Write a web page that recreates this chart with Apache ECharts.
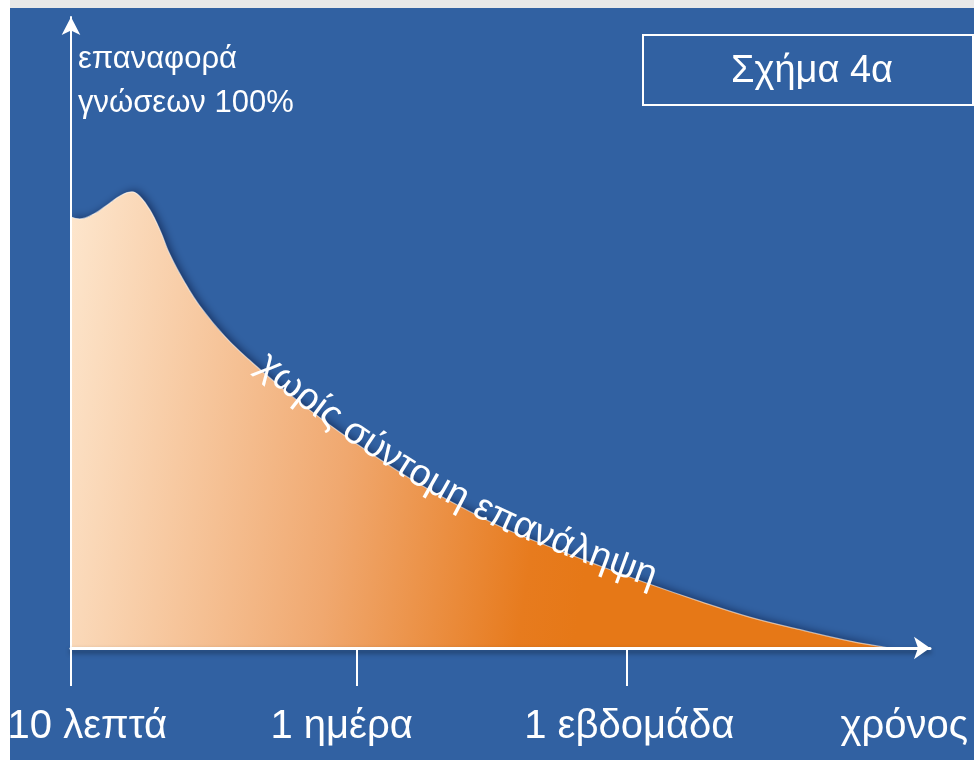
<!DOCTYPE html>
<html>
<head>
<meta charset="utf-8">
<script src="https://cdn.jsdelivr.net/npm/echarts@6/dist/echarts.min.js"></script>
<style>
  html, body { margin: 0; padding: 0; background: #ffffff; }
  #chart { width: 974px; height: 760px; }
</style>
</head>
<body>
<div id="chart"></div>
<script>
// Forgetting curve without short review: time (relative units, 0–100) and recall (%)
const timeValues = [0, 1.0, 2.8, 4.5, 5.9, 7.1, 8.0, 9.2, 10.4, 11.5, 13.3, 15.0, 17.9, 20.8, 24.3,
  27.8, 31.3, 35.4, 39.8, 44.1, 49.9, 55.8, 61.6, 67.4, 73.2, 79.0, 84.9, 90.7, 95.3];
const recallValues = [68.3, 68.0, 68.9, 70.5, 71.8, 72.3, 71.6, 69.4, 66.1, 62.4, 57.8, 54.2, 49.4, 45.6, 41.5,
  37.7, 34.2, 30.4, 26.6, 23.3, 19.3, 16.0, 13.0, 10.1, 7.4, 4.9, 2.9, 1.1, 0];

// Time axis: tick marks and the labels written under them
const tickValues = [0, 33.3, 64.7];
const timeLabels = ['10 λεπτά', '1 ημέρα', '1 εβδομάδα', 'χρόνος'];
const timeLabelValues = [1.9, 31.5, 65.0, 97.0];

const yAxisTitle = 'επαναφορά\nγνώσεων 100%';
const figureTitle = 'Σχήμα 4α';
const curveCaption = 'χωρίς σύντομη επανάληψη';
const captionStartTime = 21.6;

const FONT = '"Liberation Sans", Arial, sans-serif';
const BLUE = '#3161a2';

const chart = echarts.init(document.getElementById('chart'), null, { renderer: 'canvas' });

const option = {
  backgroundColor: BLUE,
  animation: false,
  grid: { left: 71, right: 44, top: 17, bottom: 112, outerBoundsMode: 'none' },
  xAxis: {
    type: 'value', min: 0, max: 100, z: 4,
    splitLine: { show: false },
    axisLine: {
      show: true, onZero: false, symbol: ['none', 'arrow'], symbolSize: [17, 16],
      lineStyle: { color: '#ffffff', width: 3, shadowColor: 'rgba(0,0,0,0.45)', shadowBlur: 5, shadowOffsetY: 3 }
    },
    axisTick: { show: true, customValues: tickValues, length: 38, lineStyle: { color: '#ffffff', width: 2 } },
    axisLabel: {
      show: true, customValues: timeLabelValues,
      formatter: function (v) {
        let best = 0;
        timeLabelValues.forEach(function (t, i) { if (Math.abs(t - v) < Math.abs(timeLabelValues[best] - v)) best = i; });
        return timeLabels[best];
      },
      color: '#ffffff', fontSize: 40, fontFamily: FONT, margin: 59
    }
  },
  yAxis: {
    type: 'value', min: 0, max: 100, z: 4,
    splitLine: { show: false }, axisTick: { show: false }, axisLabel: { show: false },
    axisLine: {
      show: true, onZero: false, symbol: ['none', 'arrow'], symbolSize: [14, 18],
      lineStyle: { color: '#ffffff', width: 2 }
    },
    name: yAxisTitle, nameLocation: 'end', nameGap: -20,
    nameTextStyle: {
      color: '#ffffff', fontSize: 31, lineHeight: 44, fontFamily: FONT,
      align: 'left', verticalAlign: 'top', padding: [0, 0, 0, 7]
    }
  },
  series: [{
    type: 'line',
    data: timeValues.map(function (t, i) { return [t, recallValues[i]]; }),
    smooth: 0.4,
    symbol: 'none',
    z: 2,
    lineStyle: { color: 'rgba(255,255,255,0.55)', width: 1.2 },
    areaStyle: {
      opacity: 1,
      color: new echarts.graphic.LinearGradient(0, 0.02, 0.68, 0.2, [
        { offset: 0, color: '#fde6cd' },
        { offset: 0.55, color: '#f0a86f' },
        { offset: 0.9, color: '#e77b1e' },
        { offset: 1, color: '#e67817' }
      ]),
      shadowColor: 'rgba(8,22,60,0.6)', shadowBlur: 9, shadowOffsetX: 3, shadowOffsetY: -1
    }
  }]
};

chart.setOption(option);

// Caption set letter by letter along the curve
function captionElements() {
  const pts = timeValues.map(function (t, i) {
    return chart.convertToPixel({ seriesIndex: 0 }, [t, recallValues[i]]);
  });
  const cum = [0];
  for (let i = 1; i < pts.length; i++) {
    cum.push(cum[i - 1] + Math.hypot(pts[i][0] - pts[i - 1][0], pts[i][1] - pts[i - 1][1]));
  }
  function pointAt(s) {
    let i = 1;
    while (i < pts.length - 1 && cum[i] < s) i++;
    const seg = cum[i] - cum[i - 1] || 1;
    const f = (s - cum[i - 1]) / seg;
    return [pts[i - 1][0] + f * (pts[i][0] - pts[i - 1][0]), pts[i - 1][1] + f * (pts[i][1] - pts[i - 1][1])];
  }
  const startPx = chart.convertToPixel({ seriesIndex: 0 }, [captionStartTime, 0])[0];
  let s0 = 0;
  for (let i = 1; i < pts.length; i++) {
    if (pts[i][0] >= startPx) {
      const f = (startPx - pts[i - 1][0]) / (pts[i][0] - pts[i - 1][0]);
      s0 = cum[i - 1] + f * (cum[i] - cum[i - 1]);
      break;
    }
  }
  const size = 38;
  const ctx = document.createElement('canvas').getContext('2d');
  ctx.font = size + 'px ' + FONT;
  const out = [];
  let acc = 0;
  const offset = -8; // negative: lift the letters so they sit on the curve
  Array.from(curveCaption).forEach(function (ch, k) {
    const w = ctx.measureText(ch).width;
    const s = s0 + acc + w / 2;
    acc += w;
    if (ch === ' ') return;
    const a = pointAt(s - 14), b = pointAt(s + 14), p = pointAt(s);
    const dx = b[0] - a[0], dy = b[1] - a[1];
    const len = Math.hypot(dx, dy) || 1;
    out.push({
      type: 'text', id: 'cap' + k, z: 10,
      x: p[0] - dy / len * offset, y: p[1] + dx / len * offset,
      rotation: -Math.atan2(dy, dx),
      style: { text: ch, fill: '#ffffff', fontSize: size, fontFamily: FONT, align: 'center', verticalAlign: 'middle' }
    });
  });
  return out;
}

chart.setOption({
  graphic: [
    { type: 'rect', id: 'edgeTop', z: 20, shape: { x: 0, y: 0, width: 974, height: 8 }, style: { fill: '#e8e8e8' } },
    { type: 'rect', id: 'edgeLeft', z: 20, shape: { x: 0, y: 0, width: 10, height: 760 }, style: { fill: '#ffffff' } },
    { type: 'rect', id: 'titleBox', z: 10, shape: { x: 643, y: 35, width: 330, height: 70 },
      style: { fill: 'none', stroke: '#ffffff', lineWidth: 2 } },
    { type: 'text', id: 'titleText', z: 10, x: 812, y: 72,
      style: { text: figureTitle, fill: '#ffffff', fontSize: 38, fontFamily: FONT, align: 'center', verticalAlign: 'middle' } }
  ].concat(captionElements())
});
</script>
</body>
</html>
